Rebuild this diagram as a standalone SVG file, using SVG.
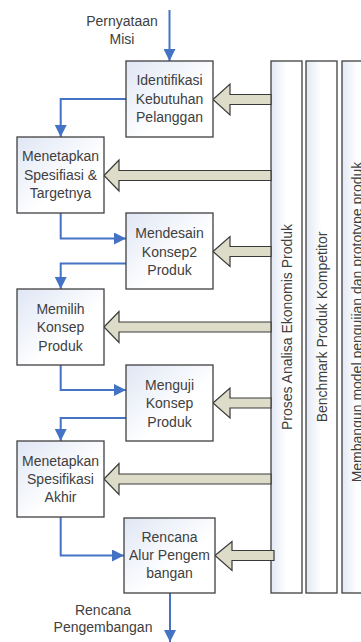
<svg xmlns="http://www.w3.org/2000/svg" width="361" height="642" viewBox="0 0 361 642">
<defs>
<linearGradient id="boxg" x1="0" y1="0" x2="1" y2="1">
<stop offset="0" stop-color="#dfe6f4"/>
<stop offset="0.6" stop-color="#ffffff"/>
</linearGradient>
<linearGradient id="barg" x1="0" y1="0" x2="1" y2="0">
<stop offset="0" stop-color="#e2e8f4"/>
<stop offset="0.5" stop-color="#ffffff"/>
</linearGradient>
<marker id="ah" markerWidth="12" markerHeight="12" viewBox="0 0 12 12" refX="12" refY="6" orient="auto" markerUnits="userSpaceOnUse">
<path d="M0,0 L12,6 L0,12 Z" fill="#4472c4"/>
</marker>
</defs>
<style>
.box{fill:url(#boxg);stroke:#404040;stroke-width:1.3}
.bar{fill:url(#barg);stroke:#404040;stroke-width:1.3}
.t{font-family:"Liberation Sans",Arial,sans-serif;font-size:14px;fill:#404040;text-anchor:middle}
.c{fill:none;stroke:#4472c4;stroke-width:2}
.fat{fill:#dcdcc8;stroke:#3a3a3a;stroke-width:1.2}
</style>

<g id="bars">
<g id="bar1"><rect class="bar" x="271" y="61" width="31" height="532"/>
<text class="t" transform="translate(292,327) rotate(-90)">Proses Analisa Ekonomis Produk</text></g>
<g id="bar2"><rect class="bar" x="306" y="61" width="31" height="532"/>
<text class="t" transform="translate(326.5,327) rotate(-90)">Benchmark Produk Kompetitor</text></g>
<g id="bar3"><rect class="bar" x="342" y="61" width="31" height="532"/>
<text class="t" transform="translate(362,322) rotate(-90)">Membangun model pengujian dan prototype produk</text></g>
</g>

<g id="fat-arrows">
<polygon class="fat" points="213,99.5 230,84 230,94.5 271,94.5 271,104.5 230,104.5 230,115"/>
<polygon class="fat" points="104,175.5 119,160 119,170.5 271,170.5 271,180.5 119,180.5 119,191"/>
<polygon class="fat" points="213,251.5 230,236.5 230,246.5 271,246.5 271,256.5 230,256.5 230,266.5"/>
<polygon class="fat" points="104,327 119,311.5 119,322 271,322 271,332 119,332 119,342.5"/>
<polygon class="fat" points="213,403 230,388 230,398 271,398 271,408 230,408 230,418"/>
<polygon class="fat" points="104,479 119,463.5 119,474 271,474 271,484 119,484 119,494.5"/>
<polygon class="fat" points="215,555.5 232,541.5 232,550.5 274,550.5 274,560.5 232,560.5 232,570.5"/>
</g>

<g id="connectors">
<path class="c" d="M169.5,10 V61" marker-end="url(#ah)"/>
<path class="c" d="M126,99 H60.7 V137" marker-end="url(#ah)"/>
<path class="c" d="M60.7,213 V238.5 H126" marker-end="url(#ah)"/>
<path class="c" d="M126,263.5 H60.7 V289" marker-end="url(#ah)"/>
<path class="c" d="M60.7,365 V390 H126" marker-end="url(#ah)"/>
<path class="c" d="M126,418 H60.7 V441" marker-end="url(#ah)"/>
<path class="c" d="M60.7,517 V555.5 H124" marker-end="url(#ah)"/>
<path class="c" d="M170,593 V642" marker-end="url(#ah)"/>
</g>

<g id="lbl-in">
<text class="t" x="122" y="26">Pernyataan</text>
<text class="t" x="122" y="44">Misi</text>
</g>
<g id="lbl-out">
<text class="t" x="103" y="615">Rencana</text>
<text class="t" x="103" y="632">Pengembangan</text>
</g>

<g id="n1"><rect class="box" x="126" y="61" width="87" height="76"/>
<text class="t" x="169.5" y="85">Identifikasi</text>
<text class="t" x="169.5" y="104">Kebutuhan</text>
<text class="t" x="169.5" y="122">Pelanggan</text></g>

<g id="n2"><rect class="box" x="17" y="137" width="87" height="76"/>
<text class="t" x="60.5" y="161">Menetapkan</text>
<text class="t" x="60.5" y="180">Spesifiasi &amp;</text>
<text class="t" x="60.5" y="198">Targetnya</text></g>

<g id="n3"><rect class="box" x="126" y="213" width="87" height="76"/>
<text class="t" x="169.5" y="238">Mendesain</text>
<text class="t" x="169.5" y="257">Konsep2</text>
<text class="t" x="169.5" y="275">Produk</text></g>

<g id="n4"><rect class="box" x="17" y="289" width="87" height="76"/>
<text class="t" x="60.5" y="314">Memilih</text>
<text class="t" x="60.5" y="332">Konsep</text>
<text class="t" x="60.5" y="351">Produk</text></g>

<g id="n5"><rect class="box" x="126" y="365" width="87" height="76"/>
<text class="t" x="169.5" y="390">Menguji</text>
<text class="t" x="169.5" y="408">Konsep</text>
<text class="t" x="169.5" y="427">Produk</text></g>

<g id="n6"><rect class="box" x="17" y="441" width="87" height="76"/>
<text class="t" x="60.5" y="466">Menetapkan</text>
<text class="t" x="60.5" y="484">Spesifikasi</text>
<text class="t" x="60.5" y="502">Akhir</text></g>

<g id="n7"><rect class="box" x="124" y="518" width="91" height="75"/>
<text class="t" x="169.5" y="542">Rencana</text>
<text class="t" x="169.5" y="560">Alur Pengem</text>
<text class="t" x="169.5" y="578">bangan</text></g>
</svg>
